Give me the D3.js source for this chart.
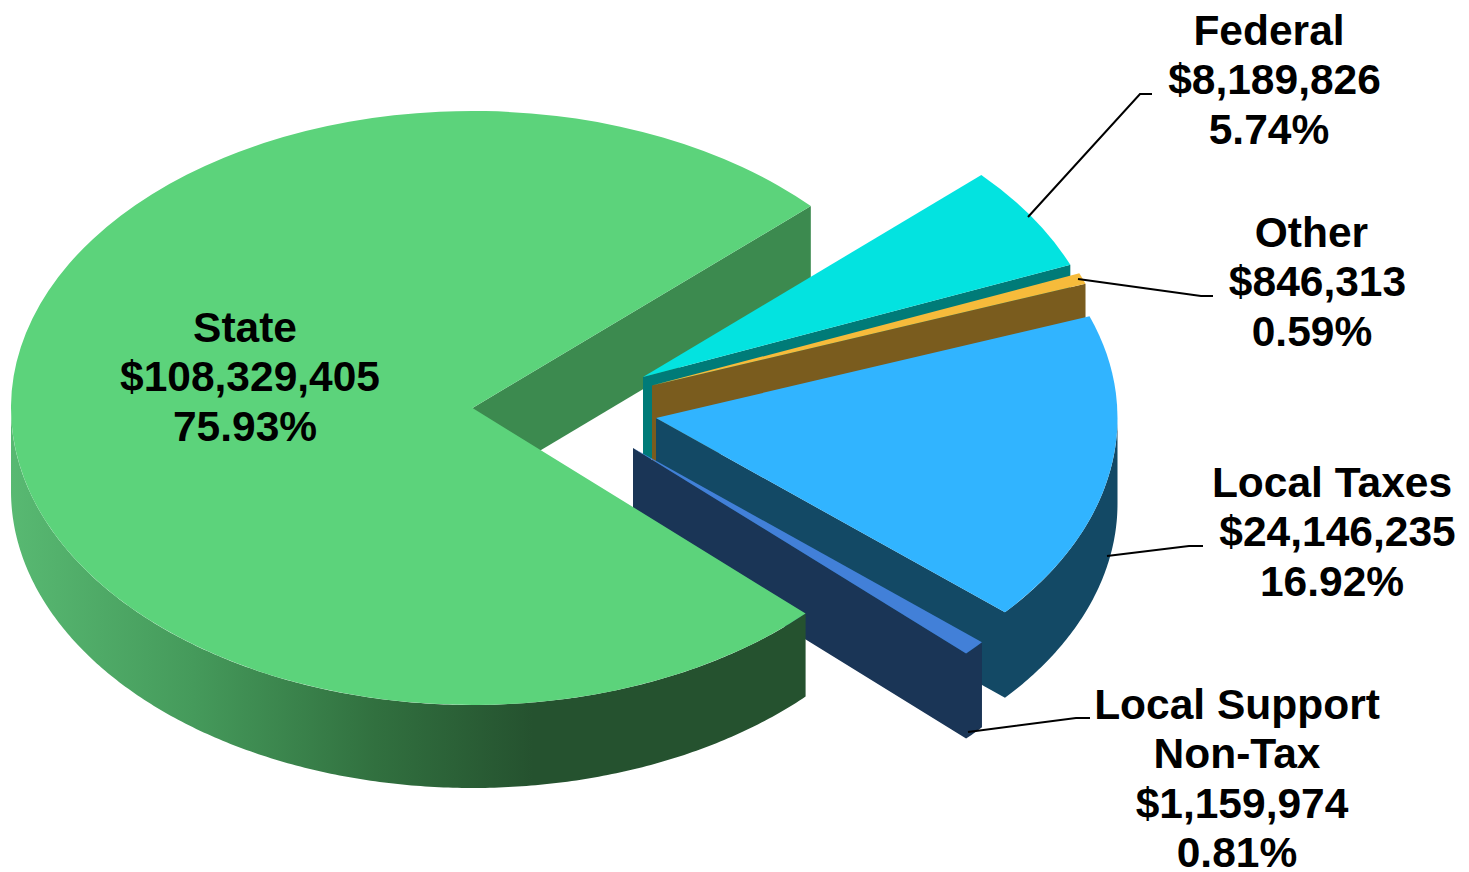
<!DOCTYPE html>
<html>
<head>
<meta charset="utf-8">
<style>
html, body { margin: 0; padding: 0; background: #fff; }
svg { display: block; }
text { font-family: "Liberation Sans", Arial, sans-serif; font-weight: 700; font-size: 42.5px; fill: #000; text-anchor: middle; }
</style>
<script src="https://cdn.jsdelivr.net/npm/d3@7/dist/d3.min.js"></script>
</head>
<body>
<svg id="chart" width="1469" height="872"></svg>
<script>
// Revenue sources, in the order they run clockwise round the pie
const categories = ["State", "Federal", "Other", "Local Taxes", "Local Support Non-Tax"];
const amounts = [108329405, 8189826, 846313, 24146235, 1159974];
const amountLabels = ["$108,329,405", "$8,189,826", "$846,313", "$24,146,235", "$1,159,974"];
const percentLabels = ["75.93%", "5.74%", "0.59%", "16.92%", "0.81%"];

// Face colours per slice
const topColors = ["#5cd37b", "#03e3e0", "#f6bb3b", "#31b4ff", "#4280d8"];
const sideColors = ["#3c8a4f", "#007b78", "#7a5c1e", "#134965", "#1a3556"];

// Tilted-pie geometry; the pulled-out wedges sit slightly nearer, so they read a little deeper
const cx = 472.5, cy = 408, rx = 461.5, ry = 297;
const depths = [83, 84, 84, 85.5, 85];
const explode = [[0, 0], [170.5, -31], [179.5, -22.5], [183.5, 10], [160.5, 40]];

// Callouts: text lines with their centre and first baseline, plus the leader
const labelLayout = [
  { lines: [[245, "name"], [250, "amount"], [245, "percent"]], y: 342 },
  { lines: [[1269, "name"], [1274.5, "amount"], [1269, "percent"]], y: 45 },
  { lines: [[1311.5, "name"], [1317.5, "amount"], [1312, "percent"]], y: 247 },
  { lines: [[1332, "name"], [1337.5, "amount"], [1332, "percent"]], y: 497 },
  { lines: [[1237, "Local Support"], [1237, "Non-Tax"], [1242, "amount"], [1237, "percent"]], y: 719 }
];
const leaders = [
  null,
  [[1028, 217], [1140, 94], [1152, 94]],
  [[1078, 279], [1201, 296], [1213, 296]],
  [[1107, 556], [1189, 546], [1203, 546]],
  [[968, 732], [1076, 718], [1090, 718]]
];

const svg = d3.select("#chart");

// Rim shading on the big slice, in the slice's own coordinates:
// light at the far left, deep toward the front
const grad = svg.append("defs").append("linearGradient")
  .attr("id", "stateWall").attr("gradientUnits", "userSpaceOnUse")
  .attr("x1", -rx).attr("x2", 60).attr("y1", 0).attr("y2", 0);
grad.append("stop").attr("offset", 0).attr("stop-color", "#58b972");
grad.append("stop").attr("offset", 0.35).attr("stop-color", "#459a5b");
grad.append("stop").attr("offset", 0.7).attr("stop-color", "#31703f");
grad.append("stop").attr("offset", 1).attr("stop-color", "#25522f");

// Angles come from the dollar amounts, starting at the lower right of the pie
const startAngle = (133.8 / 180) * Math.PI;
const slices = d3.pie().sort(null)
  .startAngle(startAngle).endAngle(startAngle + 2 * Math.PI)(amounts);

const topArc = d3.arc().innerRadius(0).outerRadius(rx);
const px = a => Math.sin(a) * rx;
const py = a => -Math.cos(a) * ry;

// Rim of a slice, limited to the half of the pie that faces the viewer
const wallPath = depth => d3.area()
  .x(a => px(a))
  .y0(a => py(a))
  .y1(a => py(a) + depth);

// Slices past the first turn carry angles above 2π, so the front half is tested on both turns
function rimAngles(s) {
  for (const turn of [0, 2 * Math.PI]) {
    const lo = Math.max(s.startAngle, Math.PI / 2 + turn);
    const hi = Math.min(s.endAngle, 3 * Math.PI / 2 + turn);
    if (hi > lo) {
      const n = Math.ceil((hi - lo) / 0.01);
      return d3.range(n + 1).map(i => lo + (hi - lo) * i / n);
    }
  }
  return [];
}

// Cut face along a slice's closing radius
function cutFace(a, depth) {
  return d3.line()([[0, 0], [px(a), py(a)], [px(a), py(a) + depth], [0, depth]]) + "Z";
}

function place(i) {
  return `translate(${cx + explode[i][0]},${cy + explode[i][1]})`;
}

function drawTop(g, s, i) {
  g.append("path")
    .attr("d", topArc(s))
    .attr("transform", `scale(1,${ry / rx})`)
    .attr("fill", topColors[i]);
}

// The big slice's cut face goes in first, the wedges over it, then its own rim and top
const state = slices[0];
svg.append("path").attr("transform", place(0))
  .attr("d", cutFace(state.endAngle, depths[0])).attr("fill", sideColors[0]);

[1, 2, 3, 4].forEach(i => {
  const s = slices[i];
  const g = svg.append("g").attr("transform", place(i));
  const rim = rimAngles(s);
  // Rim and cut face share one path so no seam shows where they meet
  const sides = (rim.length ? wallPath(depths[i])(rim) + "Z" : "") + cutFace(s.endAngle, depths[i]);
  g.append("path").attr("d", sides).attr("fill", sideColors[i]);
  drawTop(g, s, i);
});

const stateGroup = svg.append("g").attr("transform", place(0));
stateGroup.append("path")
  .attr("d", wallPath(depths[0])(rimAngles(state)))
  .attr("fill", "url(#stateWall)");
drawTop(stateGroup, state, 0);

// Leader lines
const leaderLine = d3.line();
leaders.forEach(pts => {
  if (!pts) return;
  svg.append("path").attr("d", leaderLine(pts))
    .attr("fill", "none").attr("stroke", "#000").attr("stroke-width", 2);
});

// Callout text
const lineStep = 49.3;
labelLayout.forEach((lab, i) => {
  lab.lines.forEach(([x, key], j) => {
    const txt = key === "name" ? categories[i]
      : key === "amount" ? amountLabels[i]
      : key === "percent" ? percentLabels[i] : key;
    svg.append("text").attr("x", x).attr("y", lab.y + j * lineStep).text(txt);
  });
});
</script>
</body>
</html>
